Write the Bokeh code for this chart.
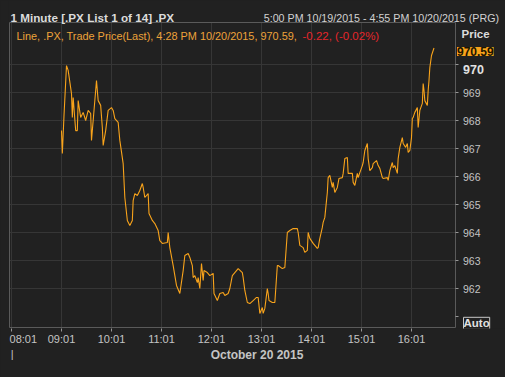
from bokeh.plotting import figure
from bokeh.models import Label, FixedTicker, Range1d, LinearAxis
from bokeh.embed import file_html
from bokeh.resources import INLINE

# ---- data (1-minute trade prices, 20 Oct 2015) ----
times = ["09:01","09:02","09:04","09:07","09:09","09:13","09:14","09:15","09:18","09:20",
         "09:21","09:24","09:27","09:30","09:33","09:36","09:37","09:39","09:42","09:43",
         "09:45","09:48","09:50","09:51","09:54","09:57","10:01","10:03","10:05","10:09",
         "10:11","10:15","10:17","10:20","10:23","10:26","10:27","10:29","10:32","10:35",
         "10:38","10:39","10:41","10:45","10:46","10:50","10:53","10:57","10:59","11:02",
         "11:08","11:09","11:11","11:15","11:19","11:23","11:27","11:29","11:33","11:35",
         "11:38","11:39","11:41","11:44","11:45","11:47","11:49","11:51","11:52","11:56",
         "11:59","12:03","12:04","12:08","12:11","12:15","12:17","12:21","12:23","12:26",
         "12:29","12:33","12:38","12:39","12:41","12:44","12:47","12:51","12:55","12:57",
         "12:59","13:02","13:03","13:05","13:08","13:09","13:10","13:14","13:17","13:20",
         "13:21","13:26","13:29","13:32","13:35","13:39","13:44","13:45","13:47","13:51",
         "13:53","13:56","13:57","13:59","14:03","14:08","14:09","14:11","14:14","14:15",
         "14:17","14:19","14:20","14:21","14:23","14:26","14:27","14:29","14:32","14:34",
         "14:38","14:39","14:41","14:44","14:45","14:50","14:51","14:53","14:56","14:57",
         "14:59","15:02","15:03","15:05","15:08","15:09","15:11","15:14","15:15","15:19",
         "15:21","15:23","15:26","15:27","15:32","15:33","15:35","15:38","15:39","15:41",
         "15:44","15:45","15:47","15:50","15:51","15:54","15:56","15:57","15:59","16:01",
         "16:02","16:03","16:05","16:08","16:09","16:11","16:14","16:15","16:16","16:17",
         "16:20","16:21","16:22","16:23","16:25","16:28"]
prices = [967.64,966.82,968.18,969.96,969.79,968.96,968.11,968.82,967.64,967.64,
          968.71,968.11,968.29,968.00,968.36,968.25,967.29,968.00,969.07,969.43,
          968.71,968.54,967.75,967.11,967.64,968.36,968.46,968.36,968.07,967.93,
          967.29,966.46,965.25,964.43,964.25,964.43,965.14,965.39,965.32,965.50,
          965.75,965.61,965.25,965.39,964.68,964.43,964.32,964.07,963.71,963.61,
          963.64,964.00,963.46,962.82,962.11,961.82,962.64,963.18,963.25,963.11,
          962.82,962.39,962.46,962.21,962.39,962.00,962.89,962.29,962.64,962.57,
          962.46,962.54,961.82,961.57,961.82,961.86,961.75,961.82,962.00,962.46,
          962.57,962.71,962.57,962.39,961.93,961.50,961.46,961.57,961.68,961.68,
          961.11,961.32,961.11,961.29,962.00,961.82,961.57,961.50,961.50,962.82,
          962.82,962.71,962.75,964.00,964.07,964.14,964.14,964.00,963.54,963.46,
          963.29,963.36,964.00,963.79,963.61,963.43,963.46,963.79,964.18,964.36,
          964.54,965.14,965.43,965.96,966.04,965.61,965.79,965.43,965.61,965.93,
          965.96,966.11,966.64,966.68,966.11,966.11,965.79,965.68,966.11,965.96,
          966.14,966.39,966.50,966.93,967.18,966.64,966.21,966.32,966.46,966.57,
          966.39,966.29,965.96,965.93,965.96,965.86,966.21,966.50,966.32,966.39,
          966.11,966.64,967.04,967.39,967.18,967.04,967.18,966.86,966.93,967.39,
          968.07,968.11,968.29,968.46,967.75,968.36,968.61,969.32,969.07,968.71,
          968.54,969.07,969.43,969.89,970.32,970.59]
x_tick_labels = ["08:01","09:01","10:01","11:01","12:01","13:01","14:01","15:01","16:01"]
y_label_ticks = [962, 963, 964, 965, 966, 967, 968, 969]
y_mark_only_ticks = [961, 970]
y_grid = [962, 963, 964, 965, 966, 967, 968, 969, 970]
last_price = 970.59
header_left = "1 Minute [.PX List 1 of 14] .PX"
header_right = "5:00 PM 10/19/2015 - 4:55 PM 10/20/2015 (PRG)"
legend_main = "Line, .PX, Trade Price(Last), 4:28 PM 10/20/2015, 970.59, "
legend_change = "-0.22, (-0.02%)"
date_label = "October 20 2015"
price_title = "Price"
top_tick_label = "970"
auto_label = "Auto"


def to_min(t):
    h, m = t.split(":")
    return int(h) * 60 + int(m)


xs = [to_min(t) for t in times]
x_ticks = [to_min(t) for t in x_tick_labels]

# ---- layout constants (pixel <-> data mapping of the 505x377 canvas) ----
PX_PER_MIN = 50 / 60.0          # 50 px per hour
PX_PER_UNIT = 28.0              # 28 px per price unit
X0_PX, X0_MIN = 11, 481         # 08:01 sits at x = 11 px
Y0_PX, Y0_VAL = 64, 970         # 970 sits at y = 64 px


def dx(px):
    return X0_MIN + (px - X0_PX) / PX_PER_MIN


def dy(py):
    return Y0_VAL - (py - Y0_PX) / PX_PER_UNIT


XMIN, XMAX = dx(9), dx(455)      # plot region
YMIN, YMAX = dy(327), dy(22)

BG = "#212121"
FONT = "Liberation Sans"
LBL = "#c4c4c4"
GRID = "#363636"
EDGE = "#5a5a5a"
ORANGE = "#f8a31b"
TICK = "#969696"

p = figure(width=505, height=377, output_backend="svg", toolbar_location=None,
           x_range=Range1d(dx(8), dx(505)), y_range=Range1d(dy(328), dy(0)),
           min_border_left=8, min_border_right=0, min_border_top=0, min_border_bottom=49)
p.background_fill_color = BG
p.border_fill_color = BG
p.outline_line_color = None
p.grid.visible = False

# grid lines and plot-region border, limited to the plot region
p.segment(x0=x_ticks, y0=[YMIN] * len(x_ticks), x1=x_ticks, y1=[YMAX] * len(x_ticks),
          line_color=GRID, line_width=1)
p.segment(x0=[XMIN] * len(y_grid), y0=y_grid, x1=[XMAX] * len(y_grid), y1=y_grid,
          line_color=GRID, line_width=1)
p.quad(left=[XMIN], right=[XMAX], bottom=[YMIN], top=[YMAX], fill_color=None,
       line_color=EDGE, line_width=1)

p.line(xs, prices, line_color=ORANGE, line_width=1.1)

# x axis: tick marks (default axis, labels not drawn) + a label axis below it
p.xaxis.ticker = FixedTicker(ticks=x_ticks)
p.xaxis.axis_line_color = None
p.xaxis.major_tick_line_color = TICK
p.xaxis.major_tick_in = 0
p.xaxis.major_tick_out = 3
p.xaxis.minor_tick_line_color = None
p.xaxis.major_label_text_color = None
p.xaxis.major_label_text_font_size = "0px"
p.xaxis.major_label_standoff = 0

label_pos = [x_ticks[0] + 11.8 / PX_PER_MIN] + x_ticks[1:]
xlab = LinearAxis(ticker=FixedTicker(ticks=label_pos),
                  major_label_overrides={x: l for x, l in zip(label_pos, x_tick_labels)},
                  axis_line_color=None, major_tick_line_color=None, minor_tick_line_color=None,
                  major_tick_in=0, major_tick_out=0, major_label_standoff=1,
                  major_label_text_color=LBL, major_label_text_font=FONT,
                  major_label_text_font_size="11px",
                  axis_label=date_label, axis_label_standoff=0,
                  axis_label_text_font=FONT, axis_label_text_font_size="12px",
                  axis_label_text_font_style="bold", axis_label_text_color=LBL)
p.add_layout(xlab, "below")

# y axis: drawn at the right edge of the plot region, labels to the right
p.yaxis.fixed_location = XMAX
p.yaxis.ticker = FixedTicker(ticks=y_label_ticks)
p.yaxis.axis_line_color = None
p.yaxis.major_tick_line_color = TICK
p.yaxis.major_tick_in = 3
p.yaxis.major_tick_out = 0
p.yaxis.minor_tick_line_color = None
p.yaxis.major_label_text_color = LBL
p.yaxis.major_label_text_font = FONT
p.yaxis.major_label_text_font_size = "10.5px"
p.yaxis.major_label_standoff = -25

ymarks = LinearAxis(fixed_location=XMAX, ticker=FixedTicker(ticks=y_mark_only_ticks),
                    axis_line_color=None, major_tick_line_color=TICK,
                    major_tick_in=3, major_tick_out=0, minor_tick_line_color=None,
                    major_label_text_color=None, major_label_text_font_size="0px",
                    major_label_standoff=0)
p.add_layout(ymarks, "left")


def lab(xp, yp, text, color, size="11px", bold=False, align="left", panel="center", **kw):
    l = Label(x=dx(xp), y=dy(yp), text=text, text_color=color, text_font=FONT,
              text_font_size=size, text_font_style="bold" if bold else "normal",
              text_align=align, text_baseline="alphabetic", **kw)
    if panel == "center":
        p.add_layout(l)
    else:
        p.add_layout(l, panel)


lab(10, 17, header_left, "#dcdcdc", size="11.7px", bold=True)
lab(498.5, 17, header_right, "#d2d2d2", size="10.7px", align="right")
lab(16, 35, legend_main, "#eda33a", size="10.9px")
lab(302, 35, legend_change, "#e5262b", size="11.5px")
lab(461, 33, price_title, "#dcdcdc", size="11.5px", bold=True)
lab(456.5, 51, f"{last_price:.2f}", "#1c1400", size="12px", bold=True,
    background_fill_color=ORANGE)
lab(462.5, 68.5, top_tick_label, "#e2e2e2", size="12.5px", bold=True)
lab(463, 322.8, auto_label, "#e0e0e0", size="11.5px", bold=True,
    border_line_color="#c8c8c8", padding=0)
lab(10.2, 353, "|", LBL, size="11px", panel="left")

html = file_html(p, INLINE)
html = html.replace("<body>", '<body style="margin:0;overflow:hidden;background-color:#212121;">')
open("out.html", "w").write(html)
